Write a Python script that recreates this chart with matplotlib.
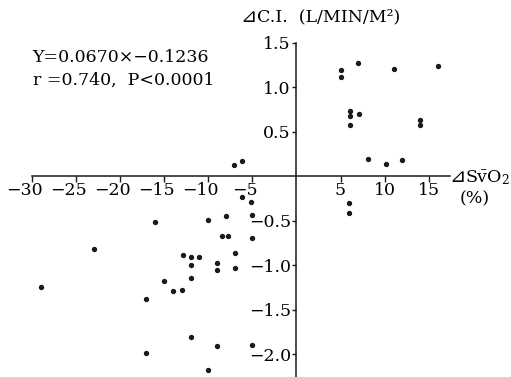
import matplotlib
matplotlib.use("Agg")
import matplotlib.pyplot as plt
from matplotlib.transforms import ScaledTranslation

# data
x_vals = [-7.1, -6.2, 5.0, 5.0, 7.0, 11.0, 16.0, 6.1, 6.1, 6.1, 7.1, 14.0, 14.0, 8.1, 10.1, 12.0,
          -6.2, -5.1, 6.0, 6.0, -16.0, -10.0, -8.0, -5.0, -8.4, -7.7, -5.0, -22.9, -12.9, -12.0,
          -11.0, -12.0, -9.0, -9.0, -7.0, -7.0, -28.9, -15.0, -14.0, -13.0, -12.0, -17.0, -12.0,
          -9.0, -5.0, -17.0, -10.0]
y_vals = [0.13, 0.17, 1.20, 1.12, 1.27, 1.21, 1.24, 0.74, 0.68, 0.575, 0.70, 0.635, 0.58, 0.20, 0.135, 0.18,
          -0.23, -0.29, -0.30, -0.41, -0.515, -0.485, -0.45, -0.43, -0.665, -0.665, -0.69, -0.82, -0.88, -0.90,
          -0.90, -1.0, -0.97, -1.05, -0.86, -1.03, -1.24, -1.18, -1.29, -1.28, -1.14, -1.375, -1.81,
          -1.91, -1.89, -1.98, -2.18]
x_ticks = [-30, -25, -20, -15, -10, -5, 5, 10, 15]
y_ticks = [1.5, 1.0, 0.5, -0.5, -1.0, -1.5, -2.0]

plt.rcParams['font.family'] = ['DejaVu Serif', 'DejaVu Sans', 'Noto Sans CJK JP']
plt.rcParams['mathtext.fontset'] = 'dejavuserif'
fs = 12.5
ink = "#1a1a1a"

fig = plt.figure(figsize=(5.11, 3.77), dpi=100)
ax = fig.add_axes([0.062, 0.001, 0.8186, 0.885])
ax.scatter(x_vals, y_vals, s=8, color=ink, zorder=3)

ax.set_xlim(-30, 17.4)
ax.set_ylim(-2.25, 1.5)
ax.spines['left'].set_position(('data', 0))
ax.spines['bottom'].set_position(('data', 0))
ax.spines['top'].set_visible(False)
ax.spines['right'].set_visible(False)
for s in ('left', 'bottom'):
    ax.spines[s].set_linewidth(1.1)
    ax.spines[s].set_color(ink)

ax.set_xticks(x_ticks)
ax.set_xticklabels([("\u2212%d" % -t) if t < 0 else str(t) for t in x_ticks])
ax.set_yticks(y_ticks)
ax.set_yticklabels([("\u2212%.1f" % -t) if t < 0 else "%.1f" % t for t in y_ticks])
ax.tick_params(axis='x', direction='out', length=4, width=1.0, labelsize=fs, color=ink, pad=0)
ax.tick_params(axis='y', direction='out', length=3, width=1.0, labelsize=fs, color=ink, pad=1)

# digits sit centred on the tick, the minus hangs to the left
shift = ScaledTranslation(-5.5 / 72, 0, fig.dpi_scale_trans)
for t, lab in zip(x_ticks, ax.get_xticklabels()):
    if t < 0:
        lab.set_transform(lab.get_transform() + shift)

fig.text(0.470, 0.955, "\u22bf", fontsize=14, ha='left', va='center')
fig.text(0.503, 0.955, "C.I.  (L/MIN/M\u00b2)", fontsize=fs, ha='left', va='center')
fig.text(0.879, 0.53, "\u22bf", fontsize=14, ha='left', va='center')
fig.text(0.910, 0.53, "S$\\bar{\\mathrm{v}}$O$_2$", fontsize=fs, ha='left', va='center')
fig.text(0.9, 0.472, "(%)", fontsize=fs, ha='left', va='center')
fig.text(0.064, 0.848, "Y=0.0670\u00d7\u22120.1236", fontsize=fs, ha='left', va='center')
fig.text(0.064, 0.787, "r =0.740,  P<0.0001", fontsize=fs, ha='left', va='center')

fig.savefig("out.png", dpi=100)
